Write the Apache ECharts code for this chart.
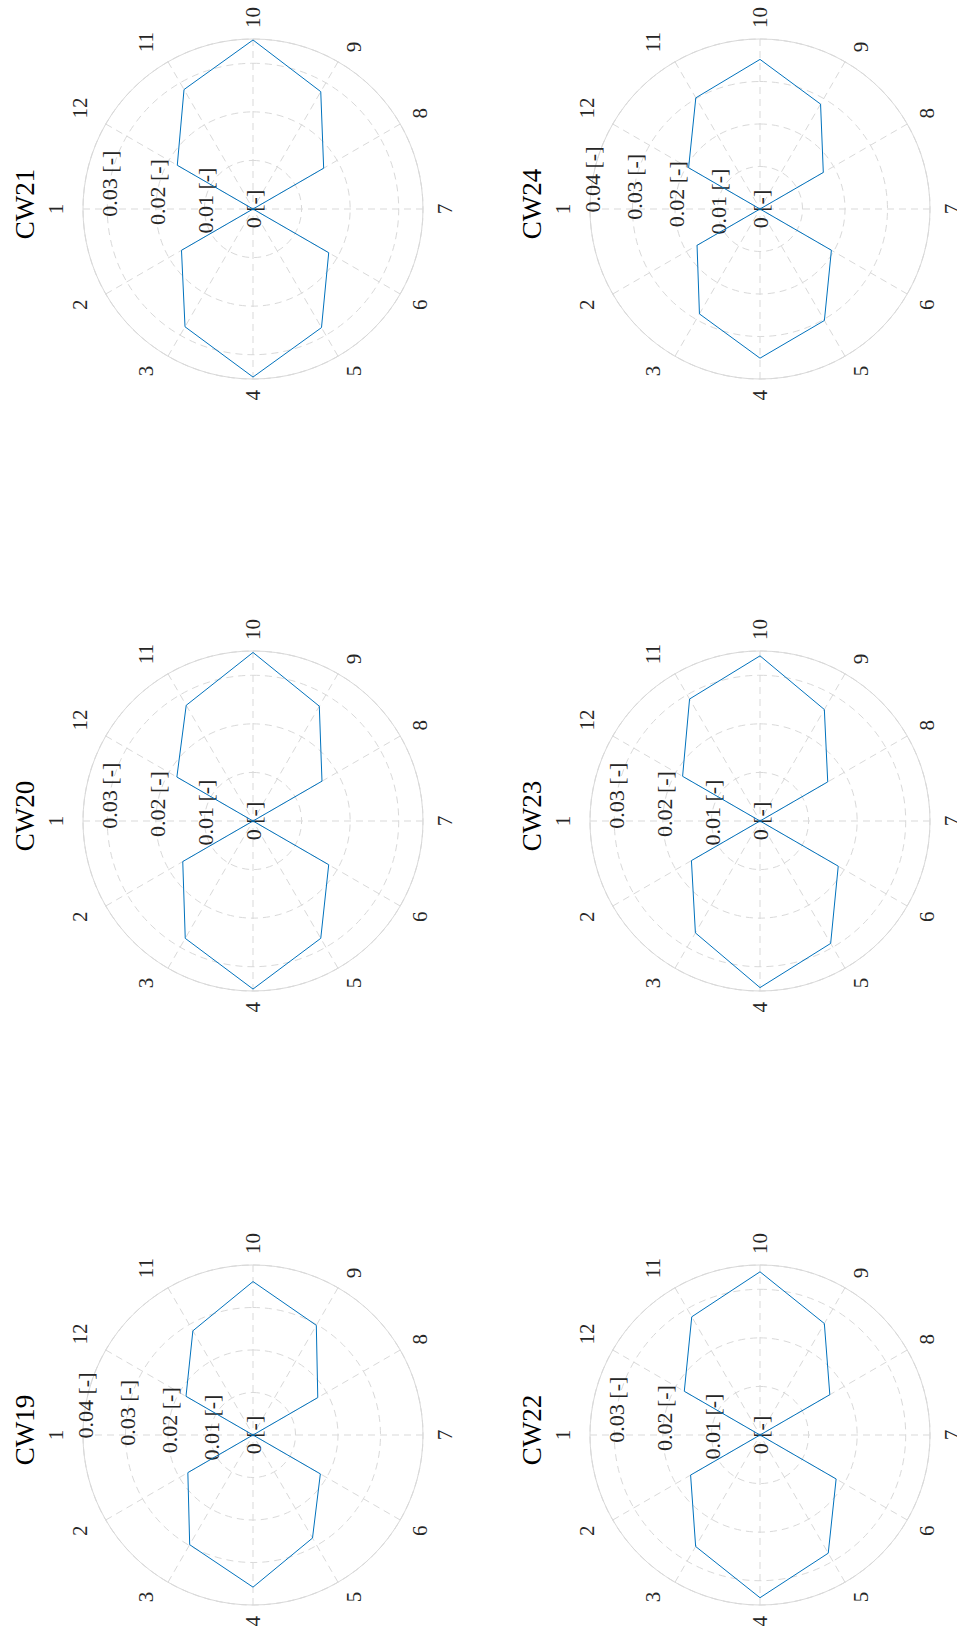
<!DOCTYPE html>
<html>
<head>
<meta charset="utf-8">
<script src="https://cdn.jsdelivr.net/npm/echarts@6/dist/echarts.min.js"></script>
<style>
  html, body { margin: 0; padding: 0; background: #fff; overflow: hidden; width: 957px; height: 1629px; }
  /* The figure is laid out landscape and turned a quarter turn onto the portrait page. */
  #chart {
    position: absolute; left: 0; top: 0;
    width: 1629px; height: 957px;
    transform-origin: 0 0;
    transform: translate(0, 1629px) rotate(-90deg);
  }
</style>
</head>
<body>
<div id="chart"></div>
<script>
// Months around the dial
const months = ['1', '2', '3', '4', '5', '6', '7', '8', '9', '10', '11', '12'];
// Calendar weeks, one polar panel each
const weeks = ['CW19', 'CW20', 'CW21', 'CW22', 'CW23', 'CW24'];

// Monthly share per week [-]
const cw19 = [0, 0.0177, 0.0298, 0.0358, 0.0280, 0.0183, 0, 0.0176, 0.0298, 0.0361, 0.0283, 0.0182];
const cw20 = [0, 0.0167, 0.0279, 0.0346, 0.0279, 0.0180, 0, 0.0164, 0.0273, 0.0347, 0.0275, 0.0181];
const cw21 = [0, 0.0170, 0.0280, 0.0346, 0.0282, 0.0180, 0, 0.0168, 0.0279, 0.0348, 0.0284, 0.0180];
const cw22 = [0, 0.0165, 0.0265, 0.0335, 0.0281, 0.0181, 0, 0.0166, 0.0265, 0.0336, 0.0281, 0.0180];
const cw23 = [0, 0.0163, 0.0266, 0.0343, 0.0291, 0.0186, 0, 0.0161, 0.0265, 0.0340, 0.0290, 0.0184];
const cw24 = [0, 0.0171, 0.0285, 0.0351, 0.0303, 0.0194, 0, 0.0172, 0.0285, 0.0352, 0.0302, 0.0194];
const weekValues = [cw19, cw20, cw21, cw22, cw23, cw24];

// Radial limits and tick step
const radialMax = [0.04, 0.035, 0.035, 0.035, 0.035, 0.04];
const radialStep = 0.01;
const radialUnit = '[-]';

// Panel layout (landscape figure, px)
const panelCenters = [[194, 253], [808, 253], [1420, 253], [194, 760], [808, 760], [1420, 760]];
const panelRadius = 170;
const titleOffset = 247;
const START_ANGLE = 90;

const FONT = '"Liberation Serif", "DejaVu Serif", serif';
const GRID = '#d9d9d9';
const TEXT = '#262626';
const LINE = '#0072BD';
const DASH = [7, 5];

// angular step between months, degrees
const monthStep = 360 / months.length;

// Labels on the upper half of the dial get a little extra clearance below them.
function monthLabel(v) {
  const idx = Math.round(v / monthStep) % months.length;
  const ang = (START_ANGLE + v) * Math.PI / 180;
  return Math.sin(ang) > 0.01 ? '{up|' + months[idx] + '}' : months[idx];
}

const polar = [], angleAxis = [], radiusAxis = [], series = [], title = [];

weeks.forEach((name, i) => {
  const c = panelCenters[i];
  const pMain = 2 * i, pLab = 2 * i + 1;

  // main grid and data
  polar.push({ center: c, radius: panelRadius });
  // radial tick labels sit on a ray 10 degrees off the first month
  polar.push({ center: c, radius: panelRadius });

  angleAxis.push({
    polarIndex: pMain, type: 'value', min: 0, max: 360, interval: monthStep,
    startAngle: START_ANGLE, clockwise: false,
    axisLine: { show: true, lineStyle: { color: GRID, width: 1 } },
    axisTick: { show: false },
    axisLabel: {
      show: true, margin: 11,
      fontSize: 21, fontFamily: FONT, color: TEXT,
      formatter: monthLabel,
      rich: { up: { fontSize: 21, fontFamily: FONT, color: TEXT, padding: [0, 0, 6, 0] } }
    },
    splitLine: { show: true, lineStyle: { color: GRID, width: 1, type: DASH } }
  });
  angleAxis.push({
    polarIndex: pLab, type: 'value', min: 0, max: 360, startAngle: START_ANGLE - 10, clockwise: false,
    axisLine: { show: false }, axisTick: { show: false }, axisLabel: { show: false }, splitLine: { show: false }
  });

  radiusAxis.push({
    polarIndex: pMain, type: 'value', min: 0, max: radialMax[i], interval: radialStep,
    axisLine: { show: false }, axisTick: { show: false }, axisLabel: { show: false },
    splitLine: { show: true, lineStyle: { color: GRID, width: 1, type: DASH } }
  });
  radiusAxis.push({
    polarIndex: pLab, type: 'value', min: 0, max: radialMax[i], interval: radialStep,
    axisLine: { show: false }, axisTick: { show: false }, splitLine: { show: false },
    axisLabel: {
      show: true, margin: 0, align: 'center', verticalAlign: 'middle',
      fontSize: 22, fontFamily: FONT, color: TEXT,
      formatter: v => {
        const k = v / radialStep;
        if (Math.abs(k - Math.round(k)) > 1e-6) return '';
        return String(+v.toFixed(2)) + ' ' + radialUnit;
      }
    }
  });

  const vals = weekValues[i];
  const pts = months.map((m, j) => [vals[j], j * monthStep]);
  pts.push([vals[0], months.length * monthStep]);
  series.push({
    type: 'line', coordinateSystem: 'polar', polarIndex: pMain,
    data: pts, symbol: 'none', smooth: false,
    lineStyle: { color: LINE, width: 1 }, silent: true, z: 3
  });

  title.push({
    text: name, left: c[0], top: c[1] - titleOffset, textAlign: 'center',
    textStyle: { fontFamily: FONT, fontSize: 27, fontWeight: 'normal', color: '#000' }
  });
});

const chart = echarts.init(document.getElementById('chart'), null, { renderer: 'svg' });
chart.setOption({
  animation: false,
  backgroundColor: '#fff',
  title, polar, angleAxis, radiusAxis, series
});
</script>
</body>
</html>
